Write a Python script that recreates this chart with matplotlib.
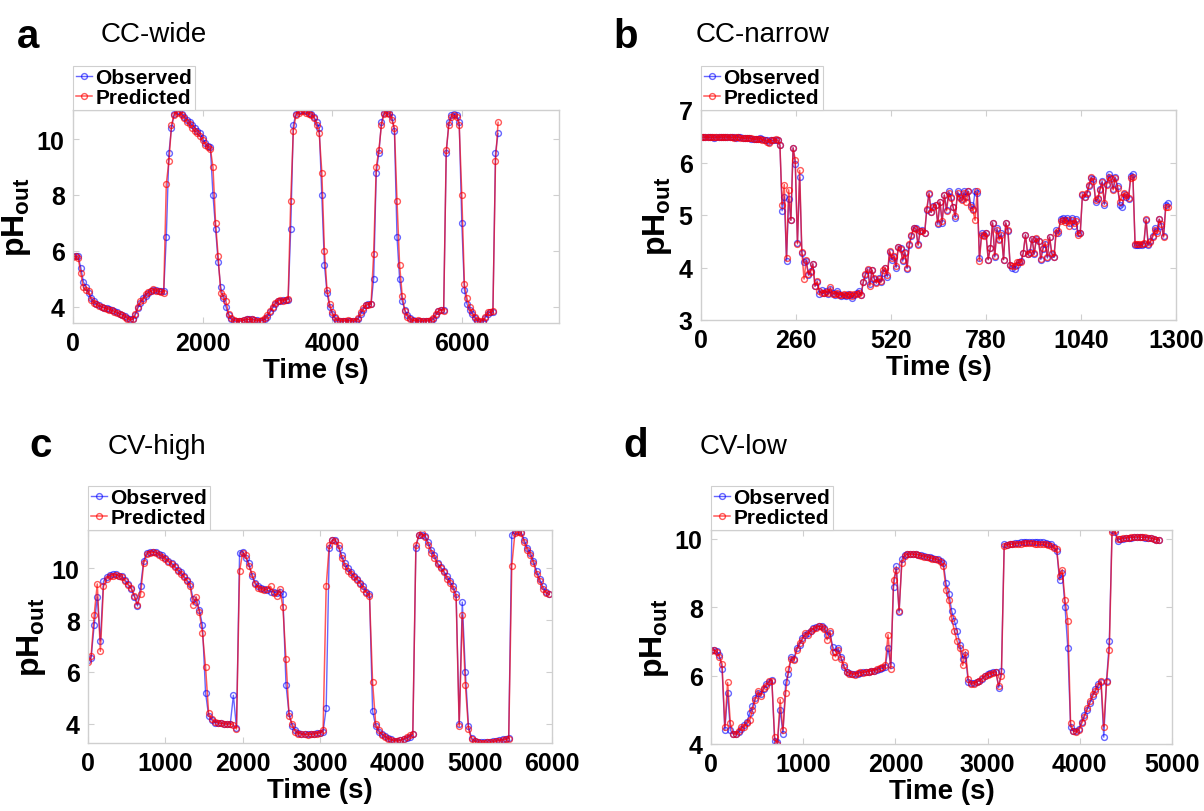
import numpy as np
import matplotlib
matplotlib.use('Agg')
import matplotlib.pyplot as plt

plt.rcParams['font.family'] = ['Liberation Sans', 'DejaVu Sans']
plt.rcParams['mathtext.fontset'] = 'custom'
plt.rcParams['mathtext.rm'] = 'Liberation Sans'
plt.rcParams['mathtext.bf'] = 'Liberation Sans:bold'

# ---- data (pH) ----
# a: CC-wide, one sample every 40 s
obs_a = [5.8, 5.8, 5.8, 5.4, 4.9, 4.7, 4.5, 4.3, 4.2, 4.1,
         4.05, 4.0, 3.97, 3.95, 3.92, 3.88, 3.84, 3.8, 3.75, 3.72,
         3.68, 3.6, 3.55, 3.55, 3.7, 3.95, 4.15, 4.3, 4.4, 4.5,
         4.55, 4.6, 4.6, 4.55, 4.55, 4.55, 6.5, 9.5, 10.4, 10.9,
         11.0, 11.0, 10.9, 10.8, 10.7, 10.6, 10.5, 10.4, 10.3, 10.2,
         10.05, 9.85, 9.75, 9.7, 8.0, 6.8, 5.6, 4.7, 4.3, 4.0,
         3.7, 3.55, 3.5, 3.48, 3.48, 3.5, 3.52, 3.55, 3.55, 3.55,
         3.53, 3.52, 3.5, 3.5, 3.55, 3.65, 3.8, 3.95, 4.1, 4.2,
         4.22, 4.25, 4.25, 4.25, 6.8, 10.5, 10.9, 11.0, 11.05, 11.05,
         11.0, 10.95, 10.9, 10.8, 10.6, 10.4, 8.0, 5.5, 4.5, 4.0,
         3.75, 3.6, 3.5, 3.48, 3.48, 3.5, 3.5, 3.5, 3.48, 3.48,
         3.55, 3.75, 3.9, 4.05, 4.1, 4.1, 5.0, 8.8, 9.5, 10.6,
         10.95, 11.0, 10.95, 10.8, 10.3, 6.5, 5.0, 4.2, 3.9, 3.7,
         3.6, 3.52, 3.5, 3.5, 3.48, 3.48, 3.5, 3.5, 3.5, 3.55,
         3.7, 3.85, 3.9, 3.9, 9.5, 10.6, 10.85, 10.9, 10.85, 10.6,
         7.0, 4.6, 4.1, 3.9, 3.75, 3.6, 3.5, 3.45, 3.45, 3.6,
         3.75, 3.8, 3.8, 9.5, 10.2]
pred_a = [5.78, 5.8, 5.75, 5.2, 4.7, 4.6, 4.55, 4.25, 4.15, 4.1,
          4.02, 4.0, 3.95, 3.93, 3.9, 3.87, 3.83, 3.78, 3.74, 3.7,
          3.65, 3.58, 3.53, 3.55, 3.75, 4.0, 4.2, 4.25, 4.45, 4.52,
          4.55, 4.65, 4.58, 4.55, 4.52, 4.5, 8.4, 9.2, 10.5, 10.85,
          10.95, 10.98, 10.85, 10.75, 10.6, 10.55, 10.4, 10.3, 10.2, 10.1,
          9.95, 9.8, 9.7, 9.65, 9.0, 7.0, 5.8, 4.5, 4.4, 4.2,
          3.75, 3.6, 3.52, 3.5, 3.5, 3.5, 3.53, 3.55, 3.54, 3.55,
          3.52, 3.5, 3.5, 3.52, 3.6, 3.7, 3.85, 4.0, 4.15, 4.22,
          4.25, 4.2, 4.25, 4.28, 7.8, 10.3, 10.85, 10.95, 11.0, 11.0,
          10.95, 10.9, 10.85, 10.75, 10.5, 10.2, 8.8, 6.0, 4.6, 4.1,
          3.8, 3.62, 3.52, 3.5, 3.5, 3.5, 3.52, 3.5, 3.5, 3.5,
          3.6, 3.8, 3.95, 4.05, 4.08, 4.1, 5.9, 9.0, 9.6, 10.5,
          10.9, 10.95, 10.9, 10.7, 10.4, 7.8, 5.5, 4.4, 3.85, 3.65,
          3.55, 3.5, 3.5, 3.52, 3.5, 3.5, 3.5, 3.5, 3.52, 3.6,
          3.75, 3.85, 3.9, 3.85, 9.6, 10.5, 10.8, 10.85, 10.8, 10.5,
          8.0, 4.8, 4.3, 4.0, 3.8, 3.65, 3.52, 3.48, 3.5, 3.65,
          3.8, 3.8, 3.85, 9.2, 10.6]

# b: CC-narrow, one sample every 6 s
obs_b = [6.48, 6.48, 6.49, 6.48, 6.48, 6.48, 6.47, 6.48, 6.49, 6.48, 6.48, 6.48,
         6.49, 6.49, 6.48, 6.48, 6.47, 6.48, 6.48, 6.47, 6.46, 6.46, 6.47, 6.45,
         6.45, 6.44, 6.45, 6.46, 6.44, 6.43, 6.42, 6.4, 6.43, 6.42, 6.43, 6.42,
         6.33, 5.08, 5.35, 4.13, 5.3, 4.9, 6.28, 5.97, 4.47, 5.72, 4.28, 4.1,
         4.12, 3.85, 3.94, 4.07, 3.65, 3.72, 3.5, 3.58, 3.52, 3.55, 3.5, 3.6,
         3.52, 3.48, 3.55, 3.5, 3.45, 3.48, 3.45, 3.5, 3.48, 3.42, 3.48, 3.52,
         3.55, 3.48, 3.72, 3.85, 3.96, 3.68, 3.95, 3.78, 3.72, 3.8, 3.72, 3.9,
         3.99, 3.82, 4.3, 4.15, 4.2, 4.0, 4.4, 4.38, 4.12, 4.3, 3.98, 4.42,
         4.6, 4.76, 4.75, 4.44, 4.7, 4.72, 4.65, 5.1, 5.4, 5.05, 5.18, 5.2,
         4.82, 5.25, 4.85, 5.38, 5.1, 5.45, 5.35, 5.15, 4.95, 5.45, 5.35, 5.3,
         5.45, 5.35, 5.45, 5.2, 5.12, 5.45, 5.42, 4.18, 4.65, 4.62, 4.65, 4.15,
         4.38, 4.85, 4.2, 4.75, 4.55, 4.65, 4.15, 4.85, 4.7, 4.05, 4.0, 3.98,
         4.05, 4.1, 4.12, 4.28, 4.62, 4.25, 4.3, 4.55, 4.25, 4.55, 4.5, 4.15,
         4.35, 4.45, 4.18, 4.58, 4.25, 4.2, 4.72, 4.65, 4.92, 4.95, 4.9, 4.95,
         4.85, 4.95, 4.8, 4.92, 4.65, 4.66,
         5.38, 5.35, 5.4, 5.55, 5.7, 5.68, 5.25, 5.3, 5.5, 5.65, 5.2, 5.6,
         5.78, 5.7, 5.5, 5.72, 5.55, 5.2, 5.15, 5.4, 5.35, 5.3, 5.75, 5.78,
         4.42, 4.42, 4.43, 4.42, 4.45, 4.9, 4.42, 4.5, 4.6, 4.75, 4.7, 4.92,
         4.8, 4.6, 5.2, 5.22]
pred_b = [6.48, 6.48, 6.48, 6.49, 6.48, 6.48, 6.48, 6.48, 6.48, 6.49, 6.48, 6.49,
          6.48, 6.48, 6.48, 6.47, 6.48, 6.48, 6.47, 6.47, 6.46, 6.47, 6.46, 6.46,
          6.44, 6.45, 6.44, 6.45, 6.43, 6.42, 6.4, 6.38, 6.42, 6.43, 6.44, 6.43,
          6.33, 5.2, 5.58, 4.18, 5.48, 4.9, 6.28, 6.05, 4.45, 5.85, 4.3, 3.78,
          4.14, 3.87, 3.92, 4.07, 3.64, 3.74, 3.55, 3.52, 3.52, 3.54, 3.52, 3.62,
          3.5, 3.5, 3.52, 3.48, 3.48, 3.5, 3.47, 3.48, 3.5, 3.45, 3.5, 3.5,
          3.52, 3.47, 3.72, 3.88, 3.97, 3.65, 3.95, 3.8, 3.7, 3.78, 3.75, 3.95,
          3.99, 3.85, 4.32, 4.18, 4.22, 4.02, 4.4, 4.35, 4.15, 4.28, 4.0, 4.44,
          4.62, 4.75, 4.73, 4.42, 4.7, 4.7, 4.66, 5.12, 5.42, 5.05, 5.15, 5.2,
          4.85, 5.25, 4.88, 5.38, 5.08, 5.42, 5.32, 5.15, 4.98, 5.42, 5.32, 5.28,
          5.42, 5.25, 5.45, 5.15, 5.1, 4.9, 5.45, 4.13, 4.62, 4.6, 4.66, 4.15,
          4.38, 4.85, 4.22, 4.72, 4.52, 4.62, 4.15, 4.85, 4.72, 4.05, 4.03, 4.03,
          4.1, 4.1, 4.1, 4.28, 4.62, 4.26, 4.28, 4.55, 4.27, 4.56, 4.5, 4.17,
          4.38, 4.48, 4.2, 4.58, 4.28, 4.2, 4.65, 4.7, 4.88, 4.9, 4.86, 4.9,
          4.8, 4.9, 4.85, 4.88, 4.62, 4.66,
          5.4, 5.35, 5.42, 5.58, 5.72, 5.65, 5.28, 5.32, 5.48, 5.62, 5.22, 5.58,
          5.72, 5.68, 5.48, 5.7, 5.52, 5.25, 5.35, 5.42, 5.38, 5.32, 5.7, 5.72,
          4.45, 4.45, 4.45, 4.44, 4.46, 4.92, 4.45, 4.48, 4.58, 4.72, 4.65, 4.92,
          4.82, 4.58, 5.15, 5.15]

# c: CV-high, one sample every 40 s
obs_c = [6.45, 6.55, 7.8, 8.9, 7.2, 9.5, 9.65, 9.75, 9.78, 9.78,
         9.72, 9.7, 9.55, 9.4, 9.2, 8.9, 8.55, 9.3, 10.3, 10.6,
         10.65, 10.65, 10.62, 10.55, 10.5, 10.4, 10.3, 10.2, 10.1, 9.95,
         9.85, 9.7, 9.55, 9.4, 8.8, 8.7, 8.4, 7.8, 5.2, 4.3,
         4.15, 4.05, 4.03, 4.02, 4.0, 4.0, 4.0, 5.1, 3.85, 10.6,
         10.65, 10.4, 10.2, 9.7, 9.45, 9.3, 9.25, 9.2, 9.15, 9.1,
         9.1, 9.05, 9.1, 9.0, 5.5, 4.4, 3.9, 3.75, 3.65, 3.62,
         3.6, 3.6, 3.6, 3.62, 3.64, 3.66, 3.7, 4.6, 10.8, 11.1,
         11.1, 10.8, 10.5, 10.2, 10.0, 9.85, 9.7, 9.6, 9.45, 9.3,
         9.1, 9.0, 4.5, 3.9, 3.7, 3.6, 3.52, 3.45, 3.4, 3.35,
         3.35, 3.38, 3.4, 3.45, 3.5, 3.6, 10.8, 11.3, 11.3, 11.25,
         11.0, 10.7, 10.5, 10.2, 10.05, 9.9, 9.7, 9.5, 9.3, 9.0,
         4.0, 8.7, 6.0, 3.9, 3.45, 3.35, 3.3, 3.28, 3.28, 3.28,
         3.3, 3.32, 3.35, 3.38, 3.4, 3.42, 3.45, 11.3, 11.45, 11.45,
         11.4, 11.1, 10.8, 10.6, 10.3, 9.9, 9.6, 9.3, 9.1, 9.0]
pred_c = [6.4, 6.6, 8.2, 9.4, 6.8, 9.3, 9.6, 9.7, 9.72, 9.75,
          9.7, 9.65, 9.5, 9.35, 9.25, 8.95, 8.6, 9.0, 10.2, 10.55,
          10.6, 10.62, 10.6, 10.52, 10.45, 10.35, 10.25, 10.15, 10.05, 9.9,
          9.8, 9.65, 9.5, 9.3, 8.6, 8.9, 8.3, 7.5, 6.2, 4.4,
          4.2, 4.08, 4.05, 4.02, 4.0, 3.98, 4.0, 3.95, 3.8, 9.9,
          10.6, 10.5, 10.1, 9.8, 9.4, 9.25, 9.2, 9.15, 9.2, 9.3,
          9.05, 8.95, 9.2, 8.5, 6.5, 4.3, 4.0, 3.7, 3.62, 3.6,
          3.6, 3.58, 3.6, 3.6, 3.62, 3.65, 3.75, 9.3, 10.9, 11.1,
          11.05, 10.9, 10.4, 10.1, 9.9, 9.8, 9.65, 9.55, 9.4, 9.2,
          9.05, 8.95, 5.6, 4.0, 3.75, 3.58, 3.5, 3.42, 3.38, 3.35,
          3.33, 3.36, 3.42, 3.48, 3.55, 3.62, 10.9, 11.3, 11.35, 11.2,
          10.9, 10.6, 10.4, 10.15, 10.0, 9.85, 9.6, 9.45, 9.2, 8.9,
          3.9, 8.2, 5.5, 3.8, 3.4, 3.32, 3.28, 3.26, 3.27, 3.28,
          3.28, 3.3, 3.33, 3.35, 3.38, 3.4, 3.42, 10.1, 11.35, 11.4,
          11.35, 11.0, 10.7, 10.5, 10.2, 9.8, 9.5, 9.2, 9.05, 9.0]

# d: CV-low, one sample every 30 s
obs_d = [6.75, 6.75, 6.72, 6.6, 6.2, 4.4, 5.5, 4.4, 4.3, 4.3,
         4.35, 4.45, 4.55, 4.65, 4.9, 5.1, 5.35, 5.5, 5.45, 5.6,
         5.75, 5.82, 5.88, 4.1, 4.05, 5.0, 4.3, 5.8, 6.05, 6.55,
         6.5, 6.8, 6.9, 7.1, 7.2, 7.25, 7.3, 7.38, 7.42, 7.44,
         7.45, 7.4, 7.2, 7.25, 6.85, 6.7, 6.8, 6.55, 6.25, 6.12,
         6.08, 6.05, 6.05, 6.06, 6.08, 6.1, 6.1, 6.12, 6.13, 6.15,
         6.17, 6.2, 6.22, 6.25, 6.8, 6.3, 8.6, 9.2, 7.85, 9.4,
         9.52, 9.55, 9.56, 9.56, 9.55, 9.54, 9.52, 9.5, 9.48, 9.46,
         9.44, 9.42, 9.4, 9.36, 9.3, 8.7, 8.4, 7.9, 7.6, 7.3,
         6.9, 6.5, 6.6, 5.8, 5.78, 5.78, 5.8, 5.85, 5.9, 6.0,
         6.05, 6.08, 6.1, 6.12, 5.65, 6.15, 9.85, 9.83, 9.85, 9.86,
         9.87, 9.88, 9.9, 9.9, 9.91, 9.92, 9.92, 9.92, 9.91, 9.9,
         9.9, 9.88, 9.86, 9.85, 9.75, 9.65, 8.8, 9.0, 8.0, 6.8,
         4.5, 4.38, 4.38, 4.45, 4.65, 4.85, 5.0, 5.2, 5.4, 5.6,
         5.75, 5.8, 4.2, 5.85, 7.0, 10.25, 10.2, 9.95, 10.0, 10.0,
         10.02, 10.03, 10.04, 10.05, 10.05, 10.05, 10.05, 10.04, 10.03, 10.02,
         10.0, 9.98, 9.97]
pred_d = [6.72, 6.75, 6.7, 6.55, 6.35, 4.5, 5.8, 4.6, 4.3, 4.28,
          4.38, 4.5, 4.5, 4.6, 4.7, 5.0, 5.3, 5.55, 5.4, 5.65,
          5.7, 5.85, 5.85, 4.2, 4.0, 5.3, 4.4, 5.5, 6.2, 6.5,
          6.45, 6.75, 6.95, 7.05, 7.25, 7.2, 7.32, 7.35, 7.4, 7.45,
          7.42, 7.35, 7.05, 7.3, 6.7, 6.55, 6.75, 6.5, 6.3, 6.1,
          6.05, 6.05, 6.03, 6.08, 6.1, 6.08, 6.12, 6.12, 6.15, 6.15,
          6.2, 6.22, 6.25, 6.3, 7.2, 6.2, 8.8, 9.1, 7.9, 9.3,
          9.5, 9.55, 9.56, 9.55, 9.55, 9.52, 9.5, 9.48, 9.46, 9.45,
          9.42, 9.4, 9.38, 9.32, 9.2, 8.5, 8.2, 7.7, 7.3, 7.0,
          6.8, 6.3, 6.7, 5.9, 5.75, 5.76, 5.82, 5.85, 5.92, 5.98,
          6.02, 6.05, 6.08, 6.1, 5.7, 6.0, 9.8, 9.82, 9.84, 9.84,
          9.85, 9.86, 9.86, 9.87, 9.88, 9.88, 9.87, 9.86, 9.86, 9.85,
          9.85, 9.84, 9.82, 9.8, 9.72, 9.7, 8.9, 9.1, 8.2, 7.6,
          4.6, 4.38, 4.35, 4.4, 4.6, 4.8, 5.05, 5.25, 5.45, 5.55,
          5.7, 5.85, 4.5, 5.8, 6.75, 10.2, 10.25, 10.0, 10.0, 10.02,
          10.03, 10.04, 10.05, 10.05, 10.06, 10.06, 10.05, 10.05, 10.04, 10.02,
          10.0, 9.98, 9.96]

t_a = np.arange(len(obs_a)) * 40
t_b = np.arange(len(obs_b)) * 6
t_c = np.arange(len(obs_c)) * 40
t_d = np.arange(len(obs_d)) * 30

W, H = 1204, 812


def box(l, t, r, b):
    return [l / W, 1 - b / H, (r - l) / W, (b - t) / H]


panels = [
    dict(rect=box(73, 111, 559, 324), t=t_a, obs=obs_a, pred=pred_a,
         xlim=(0, 7500), ylim=(3.42, 11.04), xt=[0, 2000, 4000, 6000], yt=[4, 6, 8, 10],
         letter='a', title='CC-wide', lp=(17, 48), tp=(101, 42)),
    dict(rect=box(701, 111, 1176, 321), t=t_b, obs=obs_b, pred=pred_b,
         xlim=(0, 1300), ylim=(3, 7), xt=[0, 260, 520, 780, 1040, 1300], yt=[3, 4, 5, 6, 7],
         letter='b', title='CC-narrow', lp=(613, 48), tp=(696, 42)),
    dict(rect=box(88, 531, 552, 744), t=t_c, obs=obs_c, pred=pred_c,
         xlim=(0, 6000), ylim=(3.26, 11.48), xt=[0, 1000, 2000, 3000, 4000, 5000, 6000], yt=[4, 6, 8, 10],
         letter='c', title='CV-high', lp=(29, 457), tp=(108, 454)),
    dict(rect=box(711, 531, 1172, 745), t=t_d, obs=obs_d, pred=pred_d,
         xlim=(0, 5000), ylim=(4, 10.26), xt=[0, 1000, 2000, 3000, 4000, 5000], yt=[4, 6, 8, 10],
         letter='d', title='CV-low', lp=(623, 457), tp=(700, 454)),
]

fig = plt.figure(figsize=(12.04, 8.12), dpi=100)
grey = '#cfcfcf'

for p in panels:
    ax = fig.add_axes(p['rect'])
    ax.plot(p['t'], p['obs'], '-o', color='blue', alpha=0.6, lw=1.0, ms=4.2,
            mfc='none', mew=1.0, label='Observed')
    ax.plot(p['t'], p['pred'], '-o', color='red', alpha=0.65, lw=1.1, ms=4.2,
            mfc='none', mew=1.0, label='Predicted')
    ax.set_xlim(*p['xlim'])
    ax.set_ylim(*p['ylim'])
    ax.set_xticks(p['xt'])
    ax.set_xticklabels([str(v) for v in p['xt']], fontsize=18, fontweight='bold')
    ax.set_yticks(p['yt'])
    ax.set_yticklabels([str(v) for v in p['yt']], fontsize=18, fontweight='bold')
    ax.tick_params(direction='in', length=4, width=0.8, color=grey,
                   top=True, right=True, pad=6)
    for s in ax.spines.values():
        s.set_color(grey)
        s.set_linewidth(1.0)
    ax.set_xlabel('Time (s)', fontsize=20, fontweight='bold', labelpad=1)
    ax.set_ylabel(r'pH$_\mathbf{out}$', fontsize=23, fontweight='bold', labelpad=3)
    leg = ax.legend(loc='lower left', bbox_to_anchor=(0, 1), borderaxespad=0,
                    fancybox=False, edgecolor=grey, framealpha=1,
                    prop={'weight': 'bold', 'size': 15}, numpoints=1,
                    handlelength=0.8, handletextpad=0.15, borderpad=0.12,
                    labelspacing=0.05)
    leg.get_frame().set_linewidth(0.8)
    fig.text(p['lp'][0] / W, 1 - p['lp'][1] / H, p['letter'], fontsize=29,
             fontweight='bold', ha='left', va='baseline')
    fig.text(p['tp'][0] / W, 1 - p['tp'][1] / H, p['title'], fontsize=20,
             ha='left', va='baseline')

fig.savefig('out.png', dpi=100)
